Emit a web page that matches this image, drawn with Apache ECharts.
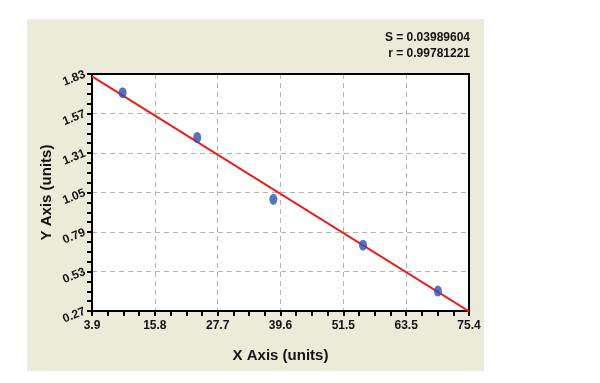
<!DOCTYPE html>
<html><head><meta charset="utf-8">
<script src="https://cdn.jsdelivr.net/npm/echarts@6/dist/echarts.min.js"></script>
<style>html,body{margin:0;padding:0;background:#fff}#c{width:600px;height:383px}</style>
</head><body><div id="c"></div>
<script>
const xTickLabels = ['3.9','15.8','27.7','39.6','51.5','63.5','75.4'];
const yTickLabels = ['0.27','0.53','0.79','1.05','1.31','1.57','1.83'];
const pointsX = [9.7, 23.85, 38.3, 55.3, 69.5];
const pointsY = [1.707, 1.412, 1.005, 0.703, 0.401];
const fitX = [3.9, 75.4];
const fitY = [1.815, 0.268];
const statS = 'S = 0.03989604';
const statR = 'r = 0.99781221';
const xName = 'X Axis (units)';
const yName = 'Y Axis (units)';

const xMin = +xTickLabels[0], xMax = +xTickLabels[xTickLabels.length-1];
const yMin = +yTickLabels[0], yMax = +yTickLabels[yTickLabels.length-1];
const font = 'Liberation Sans, Arial, sans-serif';
const chart = echarts.init(document.getElementById('c'), null, {renderer:'canvas'});
const grid = {left:92, top:74, right:131, bottom:72, show:true, backgroundColor:'#fff', borderWidth:0};
chart.setOption({
  animation:false,
  textStyle:{fontFamily:font},
  graphic:[
    {type:'rect', z:-10, shape:{x:27,y:19,width:457,height:352}, style:{fill:'#ecebda'}},
    {type:'text', right:130, top:32, style:{text:statS, font:'bold 12px '+font, fill:'#111', textAlign:'right'}},
    {type:'text', right:130, top:48, style:{text:statR, font:'bold 12px '+font, fill:'#111', textAlign:'right'}}
  ],
  grid:[grid],
  xAxis:[
    {type:'value', min:xMin, max:xMax, gridIndex:0,
     axisLabel:{show:false}, splitLine:{show:false}, axisTick:{show:false}, axisLine:{show:false}},
    {type:'value', gridIndex:0, position:'bottom', min:0, max:6, interval:1,
     name:xName, nameLocation:'middle', nameGap:37,
     nameTextStyle:{fontWeight:'bold', fontSize:15, color:'#111', fontFamily:font},
     axisLabel:{show:true, margin:9, color:'#111', fontWeight:'bold', fontSize:12, fontFamily:font,
       formatter:v=>xTickLabels[Math.round(v)] ?? ''},
     splitLine:{show:true, lineStyle:{type:[5,4], color:'#b4b4b4', width:1}},
     axisTick:{show:true, length:5, inside:false, lineStyle:{color:'#000', width:2}},
     minorTick:{show:true, splitNumber:4, length:5, lineStyle:{color:'#000', width:2}},
     axisLine:{show:true, onZero:false, lineStyle:{color:'#000', width:2}}},
    {type:'value', gridIndex:0, position:'top', min:0, max:6, interval:1,
     axisLabel:{show:false}, axisTick:{show:false}, splitLine:{show:false},
     axisLine:{show:true, onZero:false, lineStyle:{color:'#000', width:2}}}
  ],
  yAxis:[
    {type:'value', min:yMin, max:yMax, gridIndex:0,
     axisLabel:{show:false}, splitLine:{show:false}, axisTick:{show:false}, axisLine:{show:false}},
    {type:'value', gridIndex:0, position:'left', min:0, max:6, interval:1,
     name:yName, nameLocation:'middle', nameGap:38, nameRotate:90, nameMoveOverlap:false,
     nameTextStyle:{fontWeight:'bold', fontSize:15, color:'#111', fontFamily:font},
     axisLabel:{show:true, margin:7, rotate:22, color:'#111', fontWeight:'bold', fontSize:12, fontFamily:font,
       formatter:v=>yTickLabels[Math.round(v)] ?? ''},
     splitLine:{show:true, lineStyle:{type:[5,4], color:'#b4b4b4', width:1}},
     axisTick:{show:true, length:5, lineStyle:{color:'#000', width:2}},
     minorTick:{show:true, splitNumber:4, length:5, lineStyle:{color:'#000', width:2}},
     axisLine:{show:true, onZero:false, lineStyle:{color:'#000', width:2}}},
    {type:'value', gridIndex:0, position:'right', min:0, max:6, interval:1,
     axisLabel:{show:false}, axisTick:{show:false}, splitLine:{show:false},
     axisLine:{show:true, onZero:false, lineStyle:{color:'#000', width:2}}}
  ],
  series:[
    {type:'line', xAxisIndex:0, yAxisIndex:0, data:fitX.map((x,i)=>[x,fitY[i]]),
     showSymbol:false, symbol:'none', lineStyle:{color:'#ee1c1c', width:2}, z:3},
    {type:'scatter', xAxisIndex:0, yAxisIndex:0, data:pointsX.map((x,i)=>[x,pointsY[i]]),
     symbol:'circle', symbolSize:[8,11], itemStyle:{color:'#2f4fab'}, z:4}
  ]
});
</script></body></html>
